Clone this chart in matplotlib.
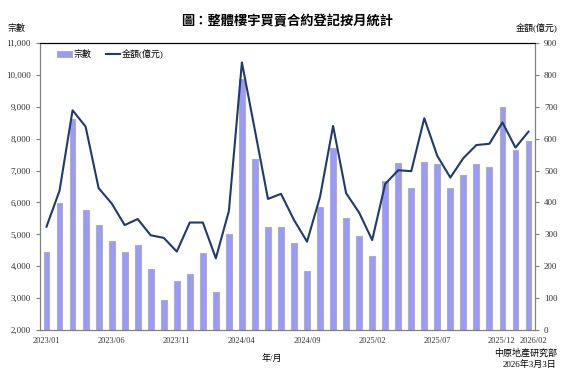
import matplotlib
matplotlib.use('Agg')
import matplotlib.pyplot as plt
import matplotlib.transforms as mtransforms
import numpy as np

plt.rcParams['font.family'] = ['Liberation Serif', 'Noto Sans CJK TC']

# monthly data 2023/01 - 2026/02
months = ['2023/01', '2023/02', '2023/03', '2023/04', '2023/05', '2023/06', '2023/07', '2023/08',
          '2023/09', '2023/10', '2023/11', '2023/12', '2024/01', '2024/02', '2024/03', '2024/04',
          '2024/05', '2024/06', '2024/07', '2024/08', '2024/09', '2024/10', '2024/11', '2024/12',
          '2025/01', '2025/02', '2025/03', '2025/04', '2025/05', '2025/06', '2025/07', '2025/08',
          '2025/09', '2025/10', '2025/11', '2025/12', '2026/01', '2026/02']
cases = [4440, 5970, 8620, 5760, 5280, 4780, 4440, 4660, 3900, 2930, 3530, 3750, 4410, 3180,
         5010, 9880, 7360, 5240, 5240, 4720, 3840, 5850, 7710, 5500, 4940, 4310, 6660, 7230,
         6440, 7260, 7200, 6440, 6850, 7200, 7110, 8990, 7650, 7930]
amount = [324, 437, 689, 638, 445, 397, 329, 348, 297, 289, 246, 337, 337, 225, 373, 839,
          626, 411, 427, 345, 277, 418, 640, 429, 368, 282, 458, 501, 498, 664, 546, 478,
          539, 580, 584, 651, 572, 622]
shown_ticks = [0, 5, 10, 15, 20, 25, 30, 35, 37]

fig = plt.figure(figsize=(5.75, 3.88), dpi=100)
ax = fig.add_axes([40/575, 58/388, 495/575, 287/388])
ax2 = ax.twinx()

x = np.arange(len(months))
bars = ax.bar(x, [c - 2000 for c in cases], bottom=2000, width=0.45, color='#9999FF',
              edgecolor='#B0B0B0', linewidth=0.8, label='宗數', zorder=2)
line, = ax2.plot(x, amount, color='#1F3A6B', linewidth=1.5, label='金額(億元)', zorder=3)

ax.set_xlim(-0.5, len(months) - 0.5)
ax.set_ylim(2000, 11000)
ax.set_yticks(range(2000, 11001, 1000))
ax.set_yticklabels([f'{v:,}' for v in range(2000, 11001, 1000)])
ax2.set_ylim(0, 900)
ax2.set_yticks(range(0, 901, 100))

ax.set_xticks([x[i] for i in shown_ticks])
ax.set_xticklabels([months[i] for i in shown_ticks])

for a in (ax, ax2):
    for s in ('left', 'right', 'bottom'):
        a.spines[s].set_color('#808080')
    a.spines['top'].set_color('black')
    a.tick_params(labelsize=6.5, colors='#333333', length=3, width=0.8, color='#808080')
ax.tick_params(axis='x', length=0, pad=5, labelsize=6)

# nudge the last two labels apart so they do not touch
labels = ax.get_xticklabels()
labels[-2].set_transform(labels[-2].get_transform() + mtransforms.ScaledTranslation(-1/100, 0, fig.dpi_scale_trans))
labels[-1].set_transform(labels[-1].get_transform() + mtransforms.ScaledTranslation(5/100, 0, fig.dpi_scale_trans))

fig.text(0.5, 0.945, '圖：整體樓宇買賣合約登記按月統計', ha='center', va='center',
         fontsize=9.5, fontweight='bold', family=['Noto Sans CJK TC'])
fig.text(16/575, 1 - 28/388, '宗數', ha='center', va='center', fontsize=6.5)
fig.text(537/575, 1 - 28/388, '金額(億元)', ha='center', va='center', fontsize=6.5)
fig.text(272/575, 1 - 358/388, '年/月', ha='center', va='center', fontsize=6.5)
fig.text(557/575, 1 - 353/388, '中原地產研究部', ha='right', va='center', fontsize=6.5)
fig.text(556/575, 1 - 364/388, '2026年3月3日', ha='right', va='center', fontsize=6.5)

ax.legend([bars, line], ['宗數', '金額(億元)'], loc='upper left', ncol=2, frameon=False,
          fontsize=6.5, handlelength=1.6, handleheight=0.6, handletextpad=0.2,
          columnspacing=1.6, borderaxespad=0.3, bbox_to_anchor=(0.022, 1.0))

fig.savefig('out.png', dpi=100)
